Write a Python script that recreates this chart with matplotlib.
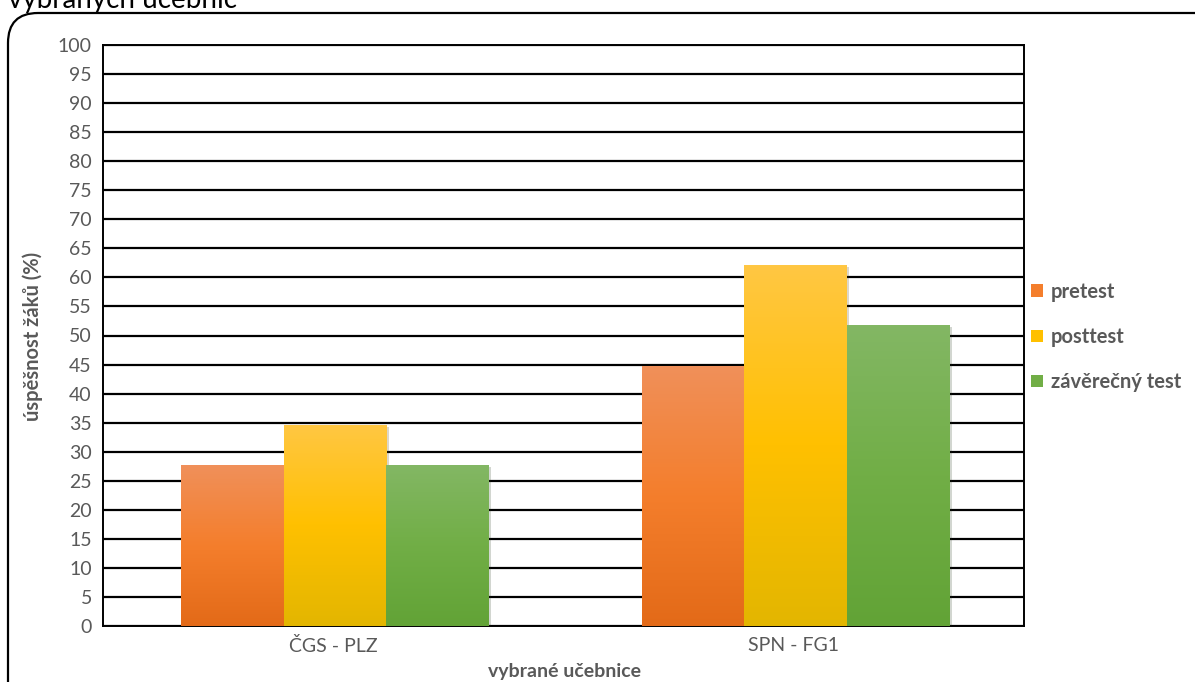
import numpy as np
import matplotlib.pyplot as plt
from matplotlib.colors import LinearSegmentedColormap
from matplotlib.patches import FancyBboxPatch, Patch
import matplotlib.patheffects as pe

# data
categories = ["ČGS - PLZ", "SPN - FG1"]
series = ["pretest", "posttest", "závěrečný test"]
pretest = [27.7, 44.8]
posttest = [34.6, 62.1]
zaverecny = [27.7, 51.8]
yticks = list(range(0, 101, 5))

# gradient colours (top, middle, bottom) for each series
grads = [
    ["#F0905A", "#F47E2C", "#E36A18"],
    ["#FFC743", "#FFC000", "#E3B600"],
    ["#83B764", "#71AE46", "#62A336"],
]
gray = "#595959"

plt.rcParams['font.family'] = ['Lato', 'DejaVu Sans']

W, H = 1195, 682
fig = plt.figure(figsize=(W / 100, H / 100), dpi=100)
ax = fig.add_axes([103 / W, 1 - 626 / H, (1024 - 103) / W, (626 - 45) / H])

# rounded chart border, running off the right and bottom edges
border = FancyBboxPatch((0.08, -0.5), 13, (H - 13) / 100 + 0.5,
                        boxstyle="round,pad=0,rounding_size=0.3",
                        transform=fig.dpi_scale_trans, fill=False,
                        edgecolor="black", linewidth=1.6, zorder=0)
fig.patches.append(border)

fig.text(8 / W, 1 - 8 / H, "vybraných učebnic", fontsize=20,
         va="baseline", ha="left", color="black")

x = np.arange(len(categories))
width = 0.223
values = [pretest, posttest, zaverecny]

for i, vals in enumerate(values):
    cmap = LinearSegmentedColormap.from_list("g%d" % i, grads[i][::-1])
    pos = x + (i - 1) * width + 0.004
    bars = ax.bar(pos, vals, width, color=grads[i][1], zorder=3,
                  path_effects=[pe.SimplePatchShadow(offset=(1.5, -1.5), alpha=0.2),
                                pe.Normal()])
    for b in bars:
        x0 = b.get_x()
        h = b.get_height()
        grad = np.linspace(0, 1, 256).reshape(-1, 1)
        im = ax.imshow(grad, extent=(x0, x0 + width, 0, h), origin="lower",
                       cmap=cmap, aspect="auto", zorder=4)
        im.set_clip_path(b)

ax.set_xlim(-0.5, 1.5)
ax.set_ylim(0, 100)
ax.set_yticks(yticks)
ax.set_xticks(x)
ax.set_xticklabels(categories)
ax.grid(axis="y", color="black", linewidth=1.6, zorder=1)
ax.set_axisbelow(True)
for s in ax.spines.values():
    s.set_color("black")
    s.set_linewidth(1.4)
ax.tick_params(length=0, labelsize=14, colors=gray, pad=8)

fig.text(33 / W, 1 - 336 / H, "úspěšnost žáků (%)", rotation=90,
         fontsize=14.5, fontweight="bold", color=gray, ha="center", va="center")
fig.text(565 / W, 1 - 671 / H, "vybrané učebnice", fontsize=14,
         fontweight="bold", color=gray, ha="center", va="center")

handles = [Patch(facecolor=g[1]) for g in grads]
leg = fig.legend(handles, series, loc="center left",
                 bbox_to_anchor=(1031 / W, 1 - 337 / H), frameon=False,
                 borderpad=0, borderaxespad=0,
                 handlelength=0.6, handleheight=0.6, labelspacing=1.25,
                 handletextpad=0.4, prop={"size": 14.5, "weight": "bold"})
for t in leg.get_texts():
    t.set_color(gray)

fig.savefig("out.png", dpi=100)
